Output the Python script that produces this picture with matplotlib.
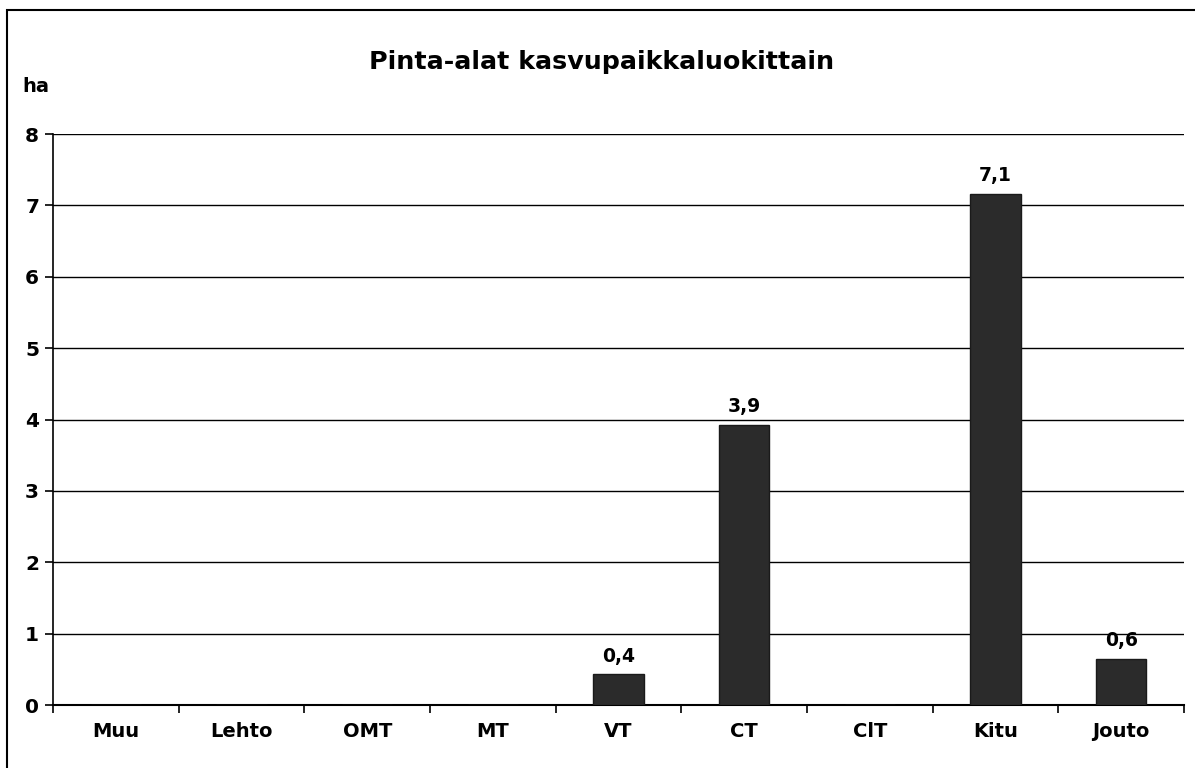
import matplotlib
matplotlib.use('Agg')
import matplotlib.pyplot as plt
from matplotlib.patches import Rectangle
import numpy as np

categories = ['Muu', 'Lehto', 'OMT', 'MT', 'VT', 'CT', 'ClT', 'Kitu', 'Jouto']
values = [0, 0, 0, 0, 0.43, 3.93, 0, 7.16, 0.65]
value_labels = ['', '', '', '', '0,4', '3,9', '', '7,1', '0,6']
y_ticks = [0, 1, 2, 3, 4, 5, 6, 7, 8]

plt.rcParams['font.family'] = ['DejaVu Sans']
plt.rcParams['font.weight'] = 'bold'

fig = plt.figure(figsize=(11.95, 7.68), dpi=100)
ax = fig.add_axes([0.0444, 0.082, 0.9464, 0.7435])

x = np.arange(len(categories))
bars = ax.bar(x, values, width=0.4, color='#2b2b2b', edgecolor='#1a1a1a', zorder=3)
for b, lab in zip(bars, value_labels):
    if lab:
        ax.text(b.get_x() + b.get_width() / 2, b.get_height() + 0.12, lab,
                ha='center', va='bottom', fontsize=13.5, fontweight='bold')

ax.set_xlim(-0.5, len(categories) - 0.5)
ax.set_ylim(0, 8)
ax.set_yticks(y_ticks)
ax.set_yticklabels([str(t) for t in y_ticks], fontsize=14.5, fontweight='bold')
ax.set_xticks(x)
ax.set_xticklabels(categories, fontsize=14, fontweight='bold')
ax.tick_params(axis='x', length=0, pad=12)
ax.set_xticks(np.arange(-0.5, len(categories)), minor=True)
ax.tick_params(axis='x', which='minor', length=6, width=1.2, direction='out')
ax.tick_params(axis='y', length=6, width=1.2, pad=4)

ax.grid(axis='y', color='black', linewidth=1, zorder=0)
for s in ['top', 'right']:
    ax.spines[s].set_visible(False)
ax.spines['left'].set_linewidth(1.2)
ax.spines['bottom'].set_linewidth(1.5)

fig.text(0.503, 0.919, 'Pinta-alat kasvupaikkaluokittain', ha='center', va='center',
         fontsize=18.3, fontweight='bold')
fig.text(0.019, 0.887, 'ha', ha='left', va='center', fontsize=14, fontweight='bold')

fig.patches.append(Rectangle((7 / 1195, -0.01), 1.02, 1 - 10 / 768 + 0.01,
                             transform=fig.transFigure, fill=False,
                             edgecolor='black', linewidth=1.5))

plt.savefig('out.png', dpi=100)
